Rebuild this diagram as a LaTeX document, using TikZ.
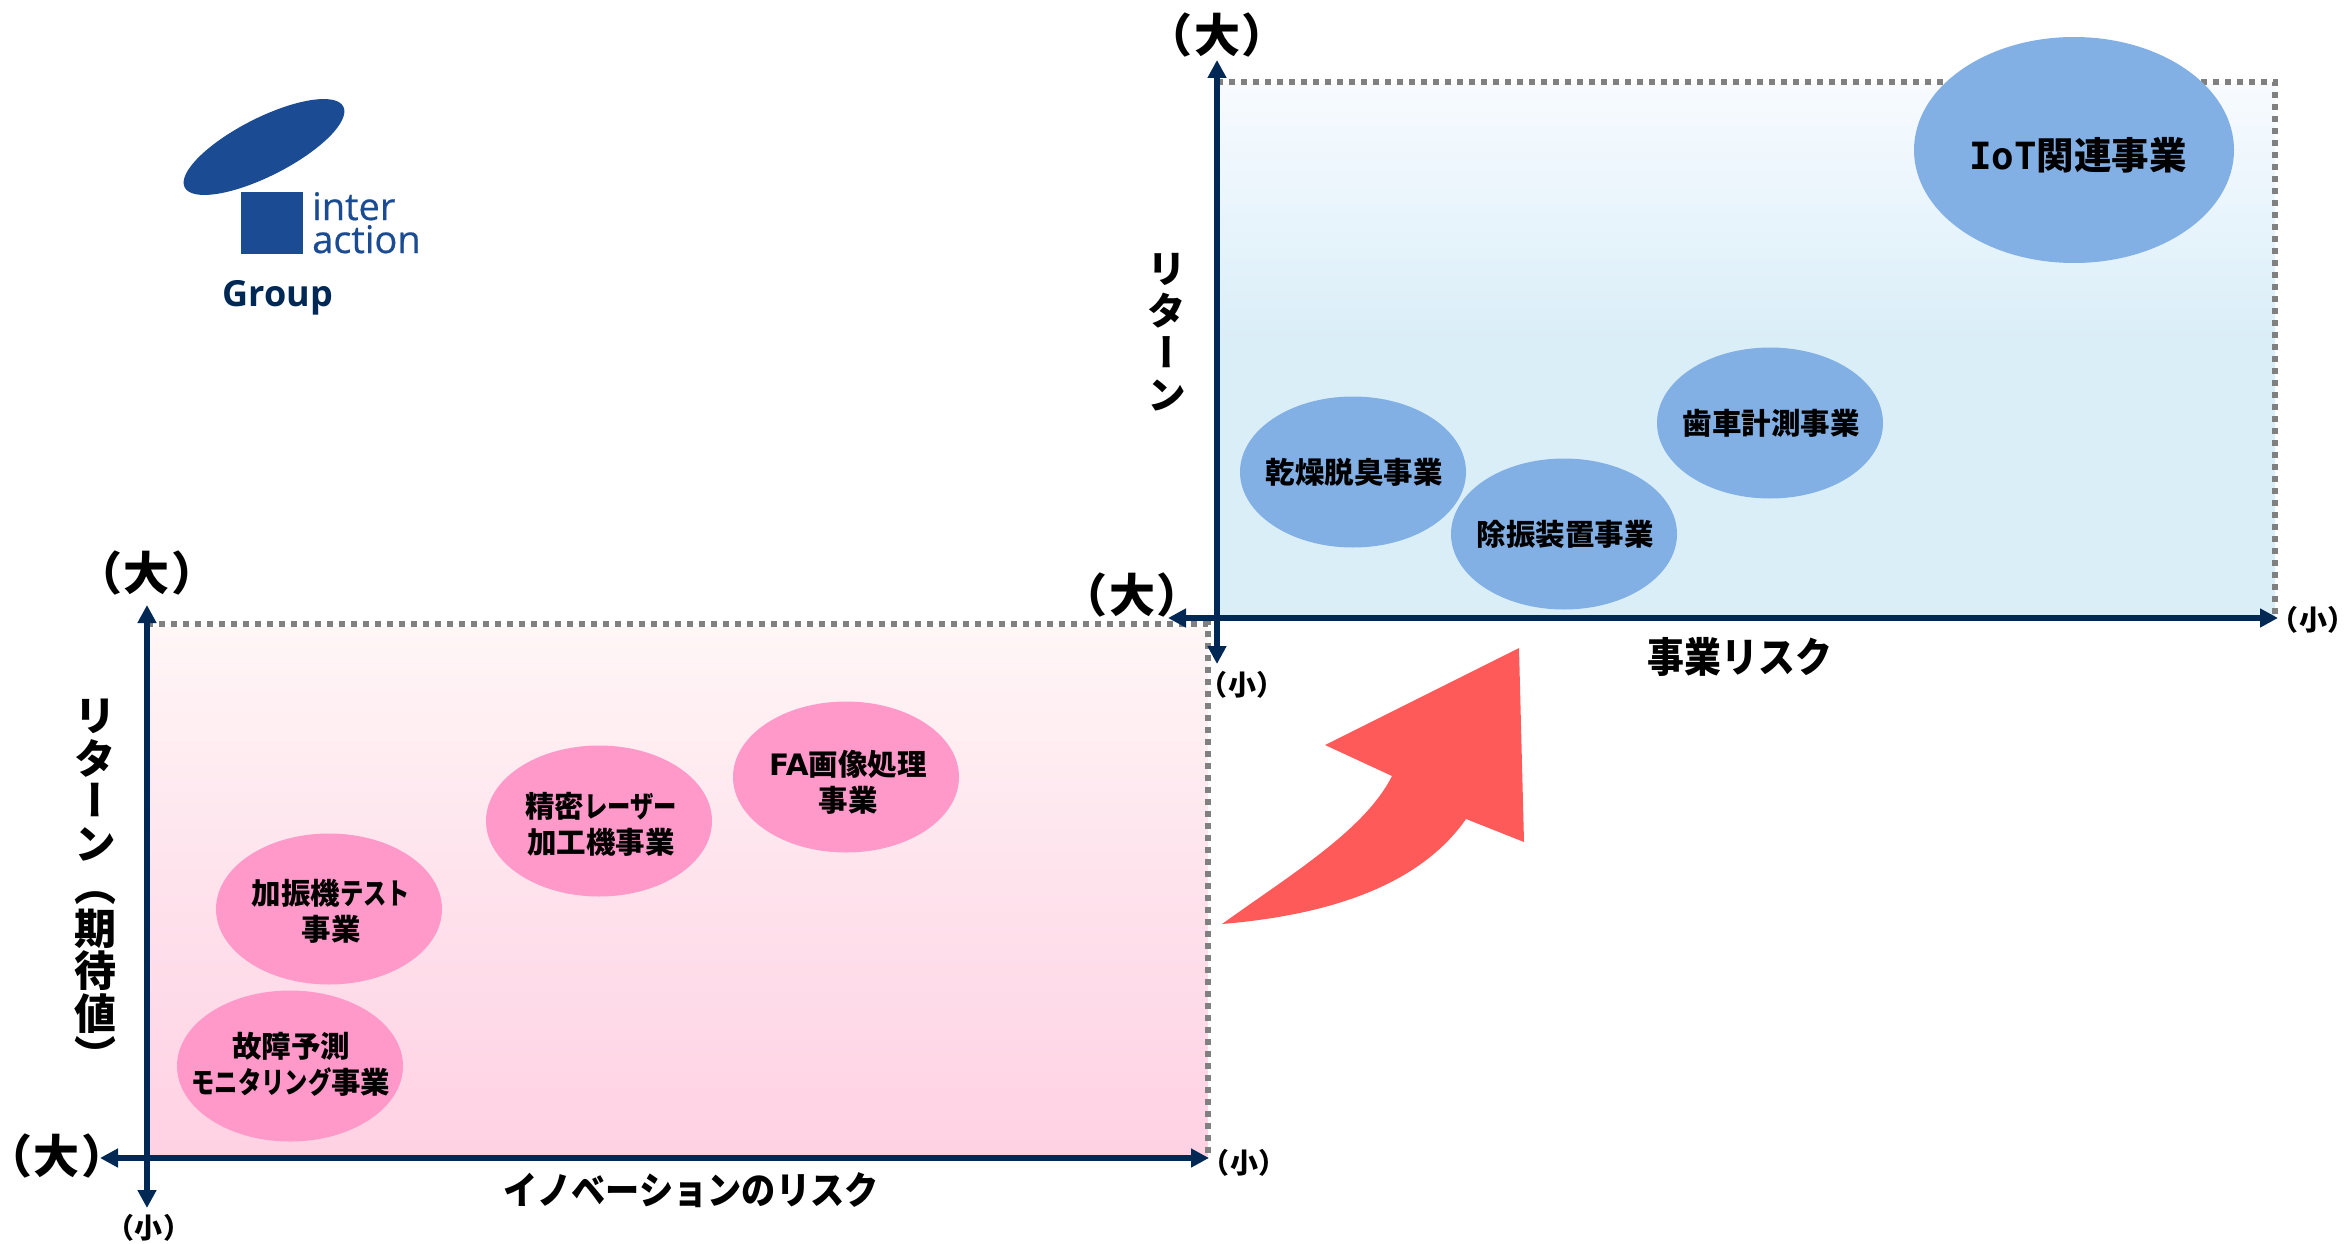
\documentclass[tikz,border=0pt]{standalone}
\usepackage{fontspec}
\usetikzlibrary{arrows.meta,shapes.geometric}
\setmainfont{Noto Sans CJK JP}
\newfontfamily\vjp[RawFeature={+vert}]{Noto Sans CJK JP}
\newfontfamily\pjp[RawFeature={+palt}]{Noto Sans CJK JP}
\newfontfamily\nar[FakeStretch=0.9]{Noto Sans CJK JP}
\newfontfamily\kana[FakeStretch=0.79]{Noto Sans CJK JP}
\newfontfamily\latb{DejaVu Sans}
\newfontfamily\monob{DejaVu Sans Mono}
\newfontfamily\logof[FakeBold=0.5]{Open Sans}
\newfontfamily\groupf{Open Sans}
\newcommand\fsz[1]{\fontsize{#1}{#1}\selectfont}
\definecolor{navy}{HTML}{002855}
\definecolor{dotgray}{HTML}{808080}
\definecolor{logoblue}{HTML}{1A4B93}
\definecolor{bluebub}{HTML}{82B0E4}
\definecolor{pinkbub}{HTML}{FF99C9}
\definecolor{redarrow}{HTML}{FF5A5A}
% pgf maps the path's box onto the middle 25bp..75bp of the shading
\pgfdeclareverticalshading{blueshade}{100bp}{
  rgb(0bp)=(0.855,0.933,0.973);rgb(25bp)=(0.855,0.933,0.973);rgb(51bp)=(0.855,0.933,0.973);
  rgb(75bp)=(0.969,0.984,1);rgb(100bp)=(0.969,0.984,1)}
\pgfdeclareverticalshading{pinkshade}{100bp}{
  rgb(0bp)=(1,0.82,0.89);rgb(25bp)=(1,0.82,0.89);rgb(50bp)=(0.996,0.885,0.925);rgb(75bp)=(1,0.965,0.965);rgb(100bp)=(1,0.965,0.965)}
\tikzset{
  axisline/.style={draw=navy,line width=6pt,{Triangle[length=18pt,width=18pt]}-{Triangle[length=18pt,width=18pt]}},
  dotline/.style={draw=dotgray,line width=6pt,dash pattern=on 6pt off 6pt},
  bubble/.style={ellipse,inner sep=0pt,minimum width=226pt,minimum height=151pt},
  bubtext/.style={inner sep=0pt,align=center,font=\bfseries\fontsize{29.5}{36}\selectfont},
  bluebubble/.style={bubble,fill=bluebub},
  pinkbubble/.style={bubble,fill=pinkbub},
  bigparen/.style={font=\pjp\bfseries\fsz{46},inner sep=0pt},
  smallparen/.style={font=\pjp\bfseries\fsz{28},inner sep=0pt},
  vlabel/.style={align=center,inner sep=0pt},
  hlabel/.style={inner sep=0pt},
}
\begin{document}
\begin{tikzpicture}[x=1pt,y=-1pt]
\useasboundingbox (0,0) rectangle (2344,1244);
% logo
\fill[logoblue,rotate around={27:(264,147)}] (264,147) ellipse (89pt and 29pt);
\node[fill=logoblue,minimum size=62pt,inner sep=0pt] (logosq) at (272,222.5) {};
\node[anchor=base west,inner sep=0pt,text=logoblue,font=\logof\fsz{38}] (logoa) at (312,220) {inter};
\node[anchor=base west,inner sep=0pt,text=logoblue,font=\logof\fsz{38}] (logob) at (312,253) {action};
\node[anchor=base,inner sep=0pt,text=navy,font=\groupf\bfseries\fsz{36}] (logoc) at (278,306) {Group};
% lower panel
\shade[shading=pinkshade] (147,627) rectangle (1208,1158);
\coordinate (ltl) at (147,624);
\coordinate (ltr) at (1208,624);
\coordinate (lbr) at (1208,1158);
\draw[dotline] (ltl) -- (ltr) -- (lbr);
\node[pinkbubble] (fa) at (846,777) {};
\node[bubtext] (fat) at (848,782) {{\latb FA}画像処理\\事業};
\node[pinkbubble] (seimitsu) at (599,821) {};
\node[bubtext] (seimitsut) at (601,824) {精密{\kana レーザー}\\加工機事業};
\node[pinkbubble] (kashin) at (329,909) {};
\node[bubtext] (kashint) at (331,911) {加振機{\kana テスト}\\事業};
\node[pinkbubble] (kosho) at (290,1066) {};
\node[bubtext] (koshot) at (291,1064) {故障予測\\{\kana モニタリング}事業};
\coordinate (lxl) at (100,1158);
\coordinate (lxr) at (1209,1158);
\coordinate (lyt) at (147,605);
\coordinate (lyb) at (147,1208);
\draw[axisline] (lxl) -- (lxr);
\draw[axisline] (lyt) -- (lyb);
\node[bigparen] (lbig1) at (147,573) {（\kern3.5pt大\kern3.5pt）};
\node[bigparen] (lbig2) at (57,1156) {（\kern3.5pt大\kern3.5pt）};
\node[smallparen] (lsm1) at (149,1228) {（\kern1.5pt小\kern1.5pt）};
\node[smallparen] (lsm2) at (1244,1163) {（\kern1.5pt小\kern1.5pt）};
\node[hlabel,font=\nar\bfseries\fsz{38}] (lxlab) at (691,1190) {イノベーションのリスク};
\node[vlabel,font=\vjp\bfseries\fontsize{42}{42.5}\selectfont] (lylab) at (95,885.5) {リ\\タ\\ー\\ン\\（\\期\\待\\値\\）};
% upper panel
\shade[shading=blueshade] (1217,85) rectangle (2275,618);
\coordinate (utl) at (1217,82);
\coordinate (utr) at (2275,82);
\coordinate (ubr) at (2275,618);
\draw[dotline] (utl) -- (utr) -- (ubr);
\node[bluebubble,minimum width=320pt,minimum height=226pt] (iot) at (2074,150) {};
\node[bubtext,font=\bfseries\fsz{37.5}] (iott) at (2078,155) {{\monob IoT}関連事業};
\node[bluebubble] (kanso) at (1353,472) {};
\node[bubtext] (kansot) at (1354,472) {乾燥脱臭事業};
\node[bluebubble] (joshin) at (1564,534) {};
\node[bubtext] (joshint) at (1565,534) {除振装置事業};
\node[bluebubble] (haguruma) at (1770,423) {};
\node[bubtext] (hagurumat) at (1771,423) {歯車計測事業};
\coordinate (uxl) at (1168,618);
\coordinate (uxr) at (2278,618);
\coordinate (uyt) at (1217,60);
\coordinate (uyb) at (1217,664);
\draw[axisline] (uxl) -- (uxr);
\draw[axisline] (uyt) -- (uyb);
\node[bigparen] (ubig1) at (1217,35) {（\kern3.5pt大\kern3.5pt）};
\node[bigparen] (ubig2) at (1132,595) {（\kern3.5pt大\kern3.5pt）};
\node[smallparen] (usm1) at (1242,685) {（\kern1.5pt小\kern1.5pt）};
\node[smallparen] (usm2) at (2313,620) {（\kern1.5pt小\kern1.5pt）};
\node[hlabel,font=\nar\bfseries\fsz{41}] (uxlab) at (1740,657) {事業リスク};
\node[vlabel,font=\vjp\bfseries\fontsize{39}{42}\selectfont] (uylab) at (1167,332) {リ\\タ\\ー\\ン};
% red arrow
\fill[redarrow] (1222,924) .. controls (1290,875) and (1365,830) .. (1392,776)
  -- (1325,745) -- (1519,648) -- (1524,842) -- (1466,819)
  .. controls (1420,885) and (1330,915) .. cycle;
\end{tikzpicture}
\end{document}
